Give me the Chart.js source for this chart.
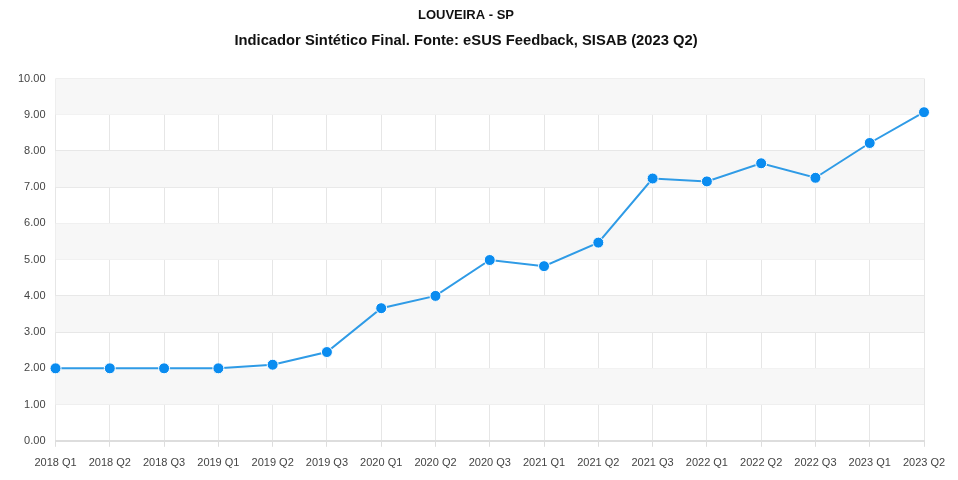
<!DOCTYPE html>
<html>
<head>
<meta charset="utf-8">
<script src="https://cdn.jsdelivr.net/npm/chart.js@4/dist/chart.umd.min.js"></script>
<style>
  html, body { margin: 0; padding: 0; background: #fff; }
  #wrap { width: 958px; height: 480px; }
</style>
</head>
<body>
<div id="wrap"><canvas id="indicadorChart"></canvas></div>
<script>
// trimestres
var quarters = ["2018 Q1", "2018 Q2", "2018 Q3", "2019 Q1", "2019 Q2", "2019 Q3",
                "2020 Q1", "2020 Q2", "2020 Q3", "2021 Q1", "2021 Q2", "2021 Q3",
                "2022 Q1", "2022 Q2", "2022 Q3", "2023 Q1", "2023 Q2"];
// Indicador Sintético Final
var indicador = [2.00, 2.00, 2.00, 2.00, 2.10, 2.45,
                 3.66, 4.00, 4.99, 4.82, 5.47, 7.24,
                 7.16, 7.66, 7.26, 8.22, 9.07];
var yTicks = [0, 1, 2, 3, 4, 5, 6, 7, 8, 9, 10];

// faixas alternadas no fundo
var bandPlugin = {
  id: 'bands',
  beforeDatasetsDraw: function(chart) {
    var ctx = chart.ctx;
    var area = chart.chartArea;
    var y = chart.scales.y;
    ctx.save();
    ctx.fillStyle = '#f7f7f7';
    for (var i = 1; i < yTicks.length - 1; i += 2) {
      var top = y.getPixelForValue(yTicks[i + 1]);
      var bottom = y.getPixelForValue(yTicks[i]);
      ctx.fillRect(area.left, top, area.right - area.left, bottom - top);
    }
    ctx.restore();
  }
};

var ctx = document.getElementById("indicadorChart").getContext("2d");

var myLineChart = new Chart(ctx, {
  type: 'line',
  data: {
    labels: quarters,
    datasets: [{
      label: 'Indicador Sintético Final',
      data: indicador,
      borderColor: '#2f9be6',
      borderWidth: 2,
      backgroundColor: '#0a8cf0',
      pointBackgroundColor: '#0a8cf0',
      pointBorderColor: '#ffffff',
      pointBorderWidth: 1,
      pointRadius: 5.5,
      tension: 0,
      fill: false
    }]
  },
  plugins: [bandPlugin],
  options: {
    responsive: true,
    maintainAspectRatio: false,
    animation: false,
    layout: { padding: { left: 8, right: 34, top: 0, bottom: 0 } },
    plugins: {
      legend: { display: false },
      tooltip: { enabled: false },
      title: {
        display: true,
        text: 'LOUVEIRA - SP',
        color: '#111',
        font: { family: 'Liberation Sans, Arial, sans-serif', size: 13, weight: 'bold' },
        padding: { top: 8, bottom: 6 }
      },
      subtitle: {
        display: true,
        text: 'Indicador Sintético Final. Fonte: eSUS Feedback, SISAB (2023 Q2)',
        color: '#111',
        font: { family: 'Liberation Sans, Arial, sans-serif', size: 14.75, weight: 'bold' },
        padding: { top: 2.5, bottom: 28.7 }
      }
    },
    scales: {
      x: {
        offset: false,
        grid: { color: '#e6e6e6', lineWidth: 1, drawTicks: true, tickLength: 6, tickColor: '#dddddd' },
        border: { color: '#dddddd', width: 2 },
        ticks: {
          color: '#444',
          font: { family: 'Liberation Sans, Arial, sans-serif', size: 11 },
          maxRotation: 0,
          autoSkip: false,
          padding: 10
        }
      },
      y: {
        min: 0,
        max: 10,
        grid: { color: '#e6e6e6', lineWidth: 1, drawTicks: false },
        border: { display: false },
        ticks: {
          stepSize: 1,
          color: '#444',
          font: { family: 'Liberation Sans, Arial, sans-serif', size: 11 },
          padding: 10,
          callback: function(v) { return v.toFixed(2); }
        }
      }
    }
  }
});
</script>
</body>
</html>
